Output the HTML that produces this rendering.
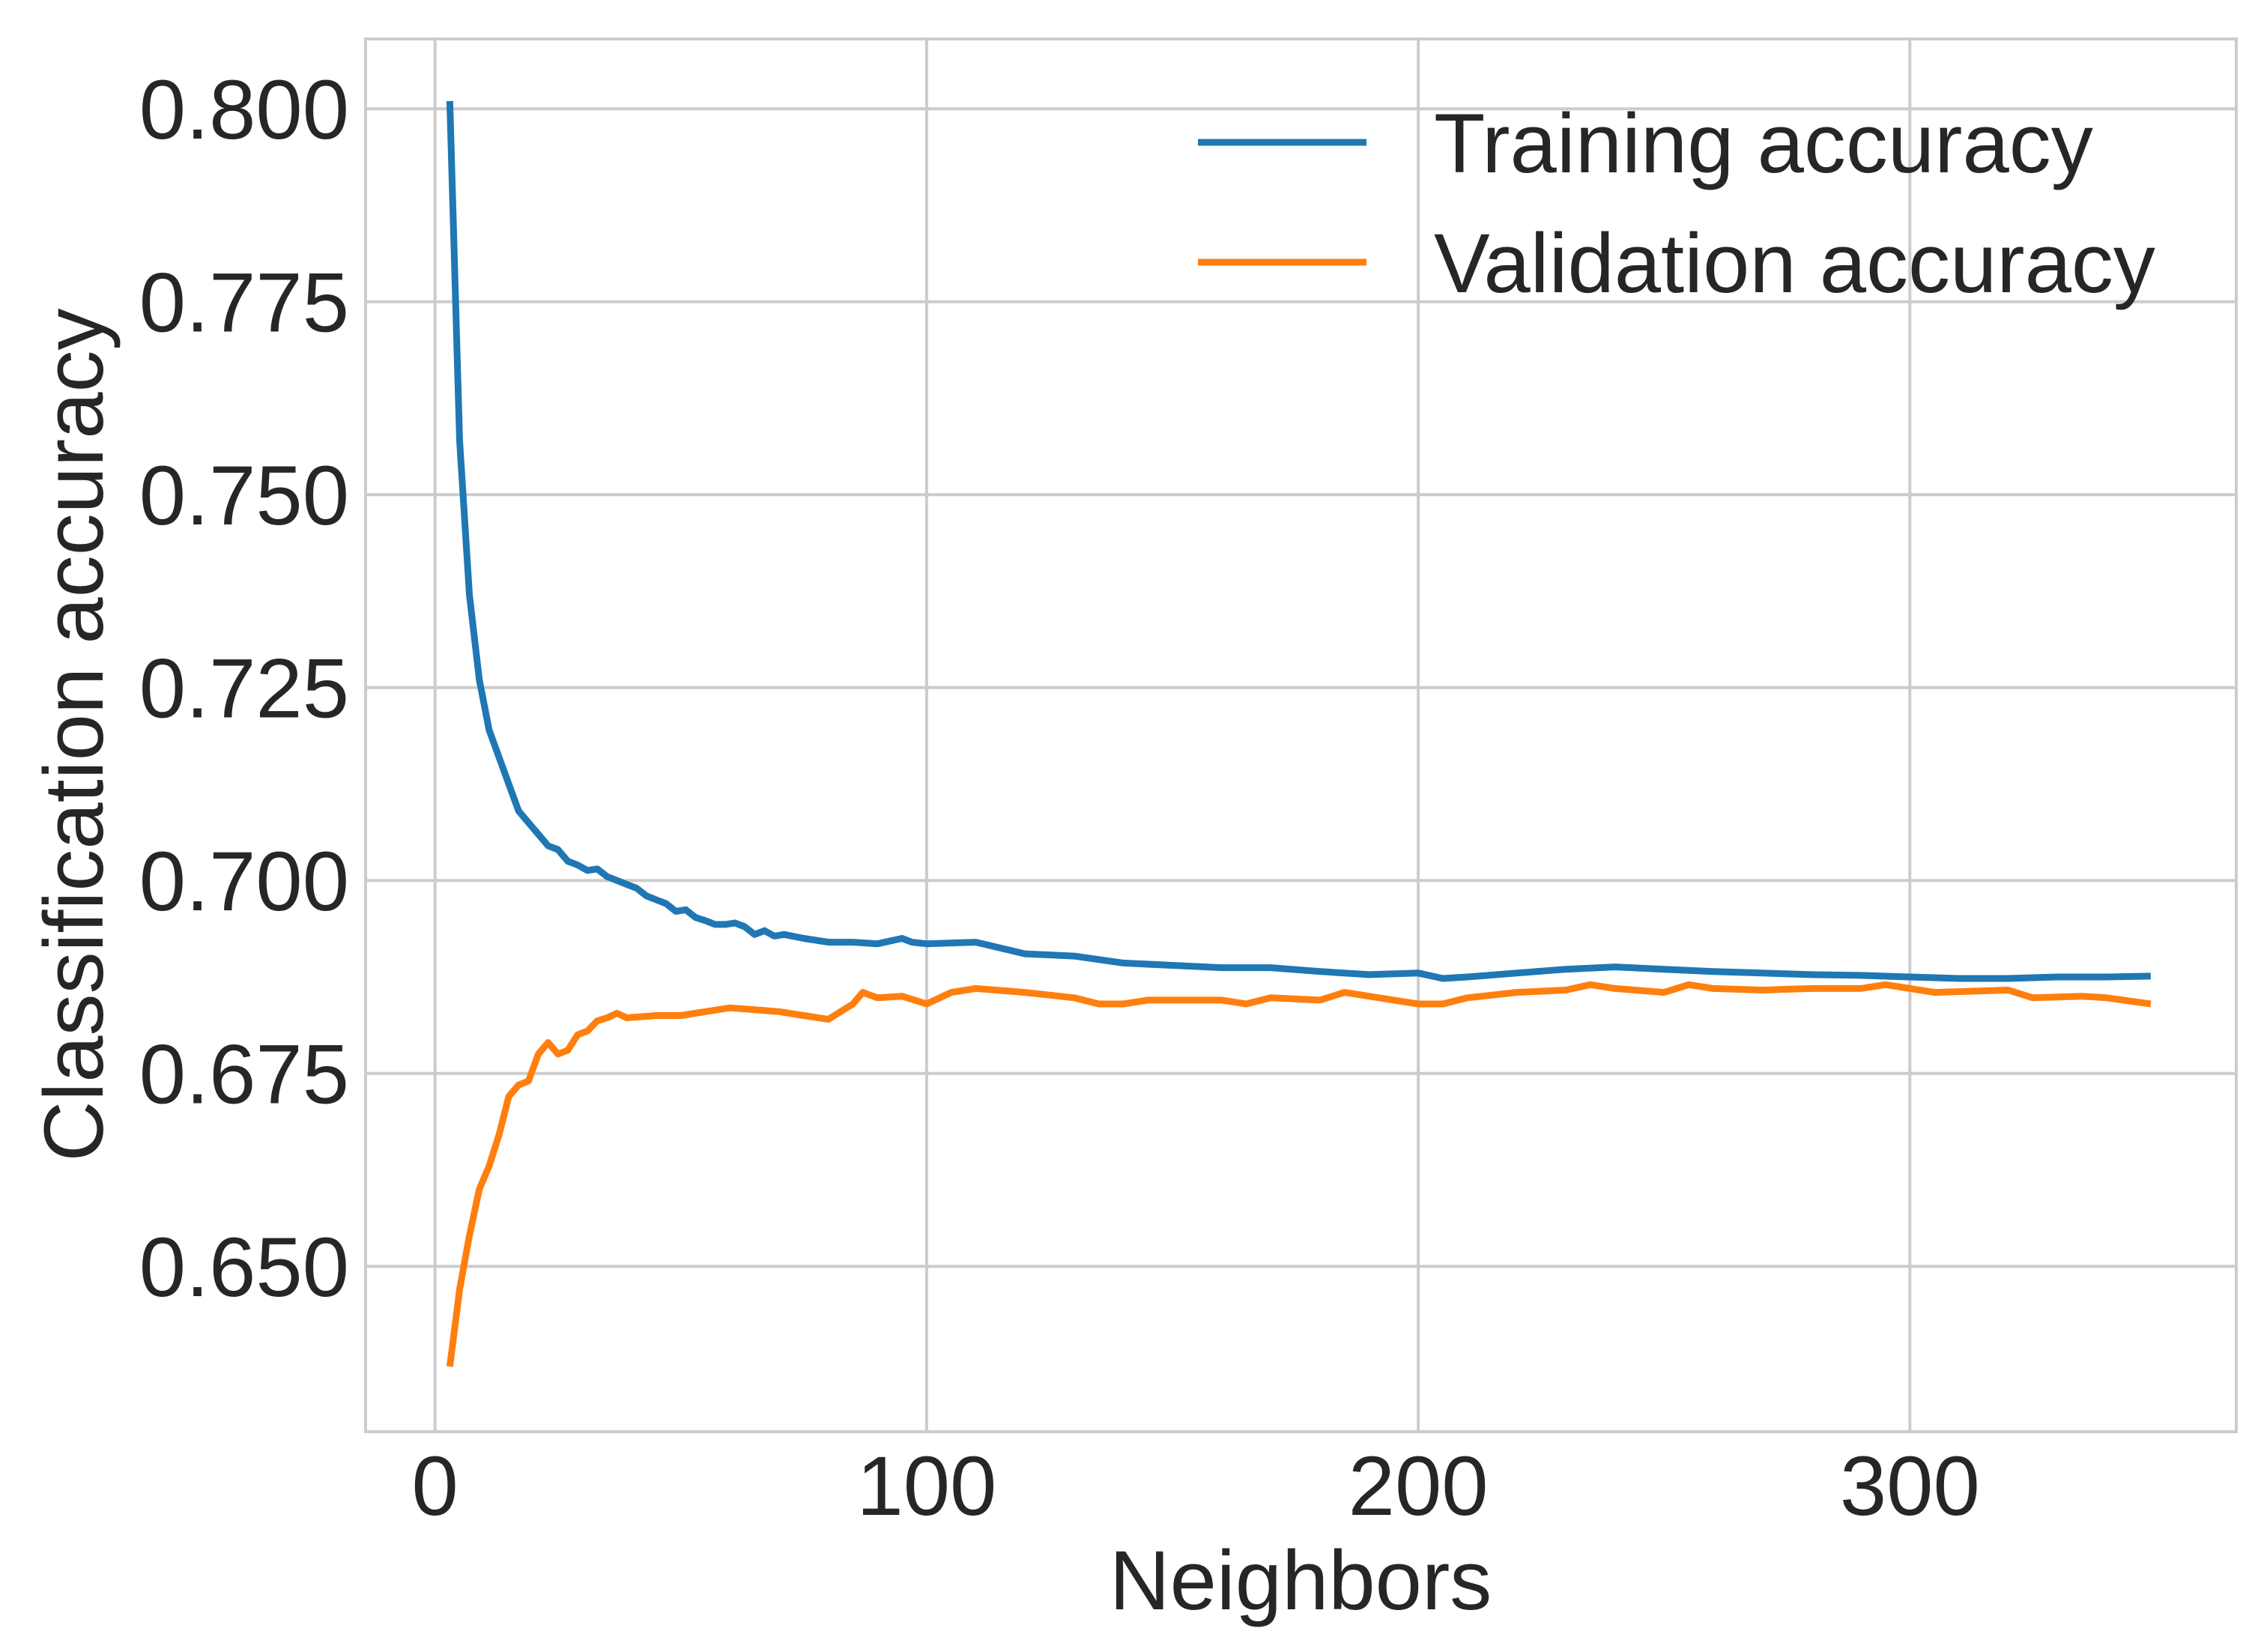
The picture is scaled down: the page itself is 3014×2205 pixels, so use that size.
<!DOCTYPE html>
<html><head><meta charset="utf-8"><style>
html,body{margin:0;padding:0;background:#fff;}
svg{display:block;font-family:"Liberation Sans",sans-serif;}
</style></head><body>
<svg id="chart" width="3014" height="2205" viewBox="0 0 3014 2205" xmlns="http://www.w3.org/2000/svg">
<rect x="0" y="0" width="3014" height="2205" fill="#fff"/>
<g id="grid"></g>
<rect x="488" y="52" width="2497" height="1859" fill="none" stroke="#cccccc" stroke-width="4"/>
<g id="ticks"></g>
<g id="series"></g>
<text x="1736" y="2148" font-size="112" fill="#262626" text-anchor="middle">Neighbors</text>
<text transform="translate(137,981) rotate(-90)" font-size="112" fill="#262626" text-anchor="middle">Classification accuracy</text>
<g>
<line x1="1599" y1="190" x2="1824" y2="190" stroke="#1f77b4" stroke-width="9"/>
<text x="1914" y="230" font-size="112" fill="#262626">Training accuracy</text>
<line x1="1599" y1="350" x2="1824" y2="350" stroke="#ff7f0e" stroke-width="9"/>
<text x="1914" y="390" font-size="112" fill="#262626">Validation accuracy</text>
</g>
</svg>
<script>
const xTicks = [0, 100, 200, 300];
const yTicks = [0.650, 0.675, 0.700, 0.725, 0.750, 0.775, 0.800];
const trainK = [3,5,7,9,11,13,15,17,19,21,23,25,27,29,31,33,35,37,39,41,43,45,47,49,51,53,55,57,59,61,63,65,67,69,71,75,80,85,90,95,97,100,110,120,130,140,150,160,170,180,190,200,205,210,220,230,240,250,260,270,280,290,300,310,320,330,340,349];
const trainAcc = [0.801,0.757,0.737,0.726,0.7195,0.716,0.7125,0.709,0.7075,0.706,0.7045,0.704,0.7025,0.702,0.7013,0.7015,0.7005,0.70,0.6995,0.699,0.698,0.6975,0.697,0.696,0.6962,0.6952,0.6948,0.6943,0.6943,0.6945,0.694,0.693,0.6935,0.6928,0.693,0.6925,0.692,0.692,0.6918,0.6925,0.692,0.6918,0.692,0.6905,0.6902,0.6893,0.689,0.6887,0.6887,0.6882,0.6878,0.688,0.6873,0.6875,0.688,0.6885,0.6888,0.6885,0.6882,0.688,0.6878,0.6877,0.6875,0.6873,0.6873,0.6875,0.6875,0.6876];
const valK = [3,5,7,9,11,13,15,17,19,21,23,25,27,29,31,33,35,37,39,45,50,55,60,70,75,80,85,87,90,95,100,105,110,120,130,135,140,145,150,160,165,170,180,185,190,195,200,205,210,220,230,235,240,250,255,260,270,280,290,295,300,305,320,325,335,340,349];
const valAcc = [0.637,0.647,0.654,0.660,0.663,0.667,0.672,0.6735,0.674,0.6775,0.679,0.6775,0.678,0.680,0.6805,0.6818,0.6822,0.6828,0.6822,0.6825,0.6825,0.683,0.6835,0.683,0.6825,0.682,0.684,0.6855,0.6848,0.685,0.684,0.6855,0.686,0.6855,0.6848,0.684,0.684,0.6845,0.6845,0.6845,0.684,0.6848,0.6845,0.6855,0.685,0.6845,0.684,0.684,0.6848,0.6855,0.6858,0.6865,0.686,0.6855,0.6865,0.686,0.6858,0.686,0.686,0.6865,0.686,0.6855,0.6858,0.6848,0.685,0.6848,0.684];
const NS = 'http://www.w3.org/2000/svg';
function xs(v){ return 580.7 + v * 6.562; }
function ys(v){ return 145.2 + (0.8 - v) / 0.025 * 257.5; }
const grid = document.getElementById('grid');
const ticks = document.getElementById('ticks');
xTicks.forEach(t => {
  const l = document.createElementNS(NS,'line');
  
  
  l.setAttribute('x1',xs(t)); l.setAttribute('x2',xs(t));
  l.setAttribute('y1',52); l.setAttribute('y2',1911);
  l.setAttribute('stroke','#cccccc'); l.setAttribute('stroke-width','4');
  grid.appendChild(l);
  const tx = document.createElementNS(NS,'text');
  
  
  tx.setAttribute('x',xs(t)); tx.setAttribute('y',2022);
  tx.setAttribute('font-size','112'); tx.setAttribute('fill','#262626');
  tx.setAttribute('text-anchor','middle');
  tx.textContent = String(t);
  ticks.appendChild(tx);
});
yTicks.forEach(t => {
  const l = document.createElementNS(NS,'line');
  
  
  l.setAttribute('x1',488); l.setAttribute('x2',2985);
  l.setAttribute('y1',ys(t)); l.setAttribute('y2',ys(t));
  l.setAttribute('stroke','#cccccc'); l.setAttribute('stroke-width','4');
  grid.appendChild(l);
  const tx = document.createElementNS(NS,'text');
  
  
  tx.setAttribute('x',466); tx.setAttribute('y',ys(t)+40);
  tx.setAttribute('font-size','112'); tx.setAttribute('fill','#262626');
  tx.setAttribute('text-anchor','end');
  tx.textContent = t.toFixed(3);
  ticks.appendChild(tx);
});
const series = document.getElementById('series');
function drawLine(kArr, accArr, color, name){
  const p = document.createElementNS(NS,'polyline');
  
  
  p.setAttribute('points', kArr.map((k,i)=>xs(k).toFixed(1)+','+ys(accArr[i]).toFixed(1)).join(' '));
  p.setAttribute('fill','none'); p.setAttribute('stroke',color);
  p.setAttribute('stroke-width','9'); p.setAttribute('stroke-linejoin','round');
  series.appendChild(p);
}
drawLine(trainK, trainAcc, '#1f77b4', 'training-accuracy-line');
drawLine(valK, valAcc, '#ff7f0e', 'validation-accuracy-line');
</script>
</body></html>
